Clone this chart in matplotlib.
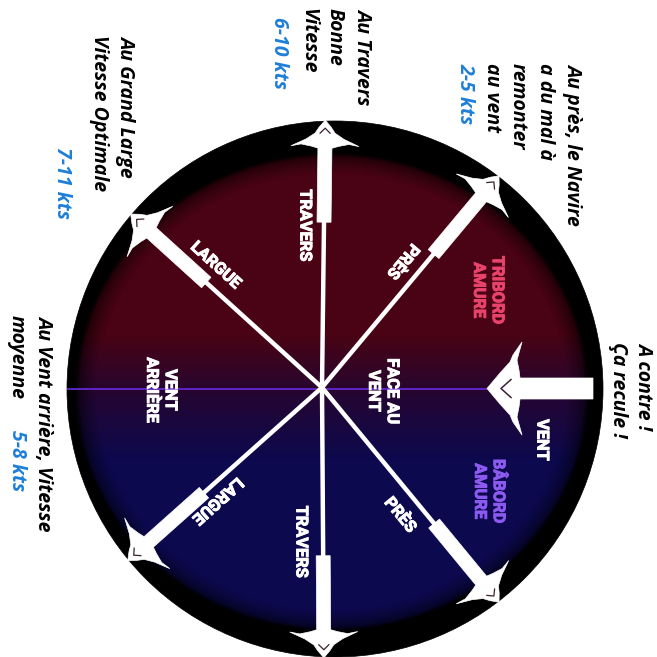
import numpy as np
import matplotlib
matplotlib.use("Agg")
import matplotlib.pyplot as plt
import matplotlib.patheffects as pe
from matplotlib.patches import Circle, Polygon

# ---------------- data ----------------
point_labels = ["TRAVERS", "PRÈS", "LARGUE", "LARGUE", "PRÈS", "TRAVERS"]
point_angles = [89.3, 50.1, 137.8, -138.3, -50.5, -89.6]   # degrees, wind from the right

zone_labels = ["FACE AU\nVENT", "VENT\nARRIÈRE", "TRIBORD\nAMURE", "BÂBORD\nAMURE", "VENT"]

speed_near = "2-5 kts"
speed_beam = "6-10 kts"
speed_broad = "7-11 kts"
speed_run = "5-8 kts"

note_near = ["Au près, le Navire", "a du mal à", "remonter", "au vent"]
note_beam = ["Au Travers", "Bonne", "Vitesse"]
note_broad = ["Au Grand Large", "Vitesse Optimale"]
note_run = ["Au Vent arrière, Vitesse", "moyenne"]
note_head = ["A contre !", "Ça recule !"]

# ---------------- figure ----------------
W = 657
fig = plt.figure(figsize=(6.57, 6.57), dpi=100)
ax = fig.add_axes([0, 0, 1, 1])
ax.set_xlim(0, W)
ax.set_ylim(W, 0)
ax.axis("off")
fig.patch.set_facecolor("white")

# outer black disc
O = np.array([335.0, 389.0])
R_OUT = 268.0
ax.add_patch(Circle(O, R_OUT, facecolor="black", edgecolor="black", lw=0.5, zorder=1))

# interior gradient (maroon top -> navy bottom) with vignette
yy, xx = np.mgrid[0:W, 0:W] + 0.5
c1 = np.array([73, 3, 20]) / 255.0
cm = np.array([36, 6, 50]) / 255.0
c2 = np.array([12, 9, 78]) / 255.0
f1 = np.clip((yy - 335) / 60.0, 0, 1)[..., None]
f2 = np.clip((yy - 395) / 65.0, 0, 1)[..., None]
col = np.where(yy[..., None] < 395, c1 * (1 - f1) + cm * f1, cm * (1 - f2) + c2 * f2)
d = np.sqrt(((xx - 332) / 258.0) ** 2 + ((yy - 392) / 240.0) ** 2)
vig = np.clip((1.0 - d) / 0.09, 0, 1) ** 0.5
img = np.zeros((W, W, 4))
img[..., :3] = col * vig[..., None]
img[..., 3] = np.clip((1.0 - d) / 0.02, 0, 1)
ax.imshow(img, extent=(0, W, W, 0), zorder=2, interpolation="bilinear")

# horizontal wind axis line
C = np.array([322.0, 387.5])
ax.plot([67, 487], [388.5, 388.5], color="#6a2be0", lw=1.2, zorder=3, solid_capstyle="butt")


def unit(a):
    r = np.deg2rad(a)
    return np.array([np.cos(r), -np.sin(r)])


def place(tip, u, pts):
    n = np.array([-u[1], u[0]])
    return np.array([tip - s * u + t * n for s, t in pts])


HEAD = [(0, 0), (7, 6), (13, 10), (19, 19), (26, 34), (24, 24), (26, 14), (28, 7),
        (102, 7), (102, -7), (28, -7), (26, -14), (24, -24), (26, -34),
        (19, -19), (13, -10), (7, -6)]
MARK = [(13, -5), (8, 0), (13, 5)]

# radial point-of-sail arrows
R_TIP = 269.0
for ang in point_angles:
    u = unit(ang)
    dd = C - O
    b = u @ dd
    L = -b + np.sqrt(b * b - dd @ dd + R_TIP ** 2)
    tip = C + L * u
    back = tip - 100 * u
    ax.plot([C[0], back[0]], [C[1], back[1]], color="white", lw=3.2, zorder=4,
            solid_capstyle="butt")
    ax.add_patch(Polygon(place(tip, u, HEAD), closed=True, facecolor="white",
                         edgecolor="white", lw=0.5, zorder=4))
    mk = place(tip, u, MARK)
    ax.plot(mk[:, 0], mk[:, 1], color="#3a2030", lw=0.9, zorder=5)

# wind arrow (from the right)
WIND = [(0, 0), (13, 15.5), (23, 26.5), (26, 33.5), (35, 46.5), (30, 28.5), (32, 18.5),
        (33, 10.5), (106, 10.5), (106, -10.5), (33, -10.5), (32, -18.5), (30, -28.5),
        (35, -46.5), (26, -33.5), (23, -26.5), (13, -15.5)]
WMARK = [(24, -9), (14, 0), (24, 9)]
u = unit(180)
wtip = np.array([487.0, 388.5])
ax.add_patch(Polygon(place(wtip, u, WIND), closed=True, facecolor="white",
                     edgecolor="white", lw=0.5, zorder=4))
mk = place(wtip, u, WMARK)
ax.plot(mk[:, 0], mk[:, 1], color="#3a2030", lw=1.1, zorder=5)

# labels along arrows
LAB_ALONG = [162, 149, 161, 153, 148, 154]
LAB_PERP = [19, 19, -19, 15, -21, -22]
bold = dict(family=["Roboto", "DejaVu Sans"], weight="bold", fontsize=11.8, color="white")
for lab, ang, al, pp in zip(point_labels, point_angles, LAB_ALONG, LAB_PERP):
    u = unit(ang)
    r = np.deg2rad(ang)
    n = np.array([-np.sin(r), -np.cos(r)])
    p = C + al * u + pp * n
    if lab == "TRAVERS":
        rot = -90
    elif ang > 0:
        rot = ang - 180
    else:
        rot = ang
    ax.text(p[0], p[1], lab, rotation=rot, ha="center", va="center",
            rotation_mode="anchor", zorder=6,
            path_effects=[pe.withStroke(linewidth=0.7, foreground="white")], **bold)

zone_xy = [(383, 391), (161, 390), (488, 290), (489, 491), (542, 440)]
zone_col = ["white", "white", "#e8436c", "#8c5af0", "white"]
for lab, (x, y), c in zip(zone_labels, zone_xy, zone_col):
    kw = dict(bold)
    kw["color"] = c
    ax.text(x, y, lab, rotation=-90, ha="center", va="center", linespacing=1.3,
            multialignment="center", zorder=6,
            path_effects=[pe.withStroke(linewidth=0.7, foreground=c)], **kw)

# outside notes (black bold italic, rotated)
note = dict(family=["Open Sans", "DejaVu Sans"], weight="bold", style="italic",
            fontsize=14, color="black")
blue = dict(note)
blue["color"] = "#1e7fd8"


def lines(texts, xs, y, kw):
    for t, x in zip(texts, xs):
        ax.text(x, y, t, rotation=-90, ha="center", va="top", zorder=6, **kw)


lines(note_near, [573, 545, 518, 492], 63, note)
lines([speed_near], [465], 63, blue)
lines(note_beam, [363, 335, 308], 8, note)
lines([speed_beam], [279], 17, blue)
lines(note_broad, [126, 99], 35, note)
lines([speed_broad], [62], 147, blue)
lines(note_run, [44, 17], 315, note)
lines([speed_run], [17], 430, blue)
lines(note_head, [644, 618], 342, note)

fig.savefig("out.png", dpi=100, facecolor="white")
